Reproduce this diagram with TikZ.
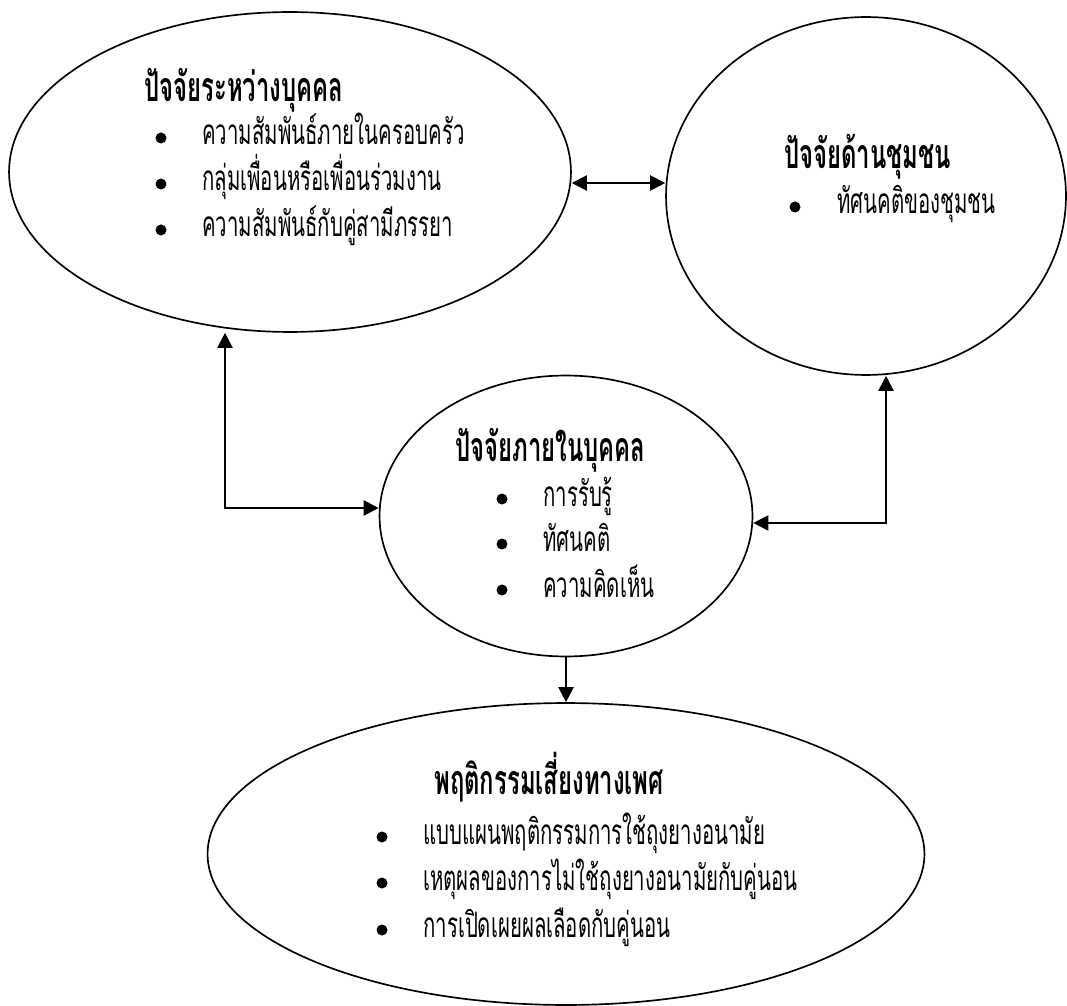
\documentclass[tikz,border=0pt]{standalone}
\usepackage{fontspec}
\newfontfamily\thaifont[Script=Thai, FakeStretch=0.58]{Loma}
\usepackage{tikz}
\usetikzlibrary{arrows.meta,shapes.geometric}

\begin{document}
\begin{tikzpicture}[x=0.02cm, y=-0.02cm, >={Triangle[length=3mm,width=3mm]},
	oval/.style={draw, ellipse, line width=0.95pt, inner sep=0pt},
	link/.style={line width=1.15pt},
	head/.style={anchor=base west, inner sep=0pt, font=\thaifont\bfseries\fontsize{23.4}{26}\selectfont},
	item/.style={anchor=base west, inner sep=0pt, font=\thaifont\fontsize{20}{23}\selectfont},
	dot/.style={circle, fill, inner sep=0pt, minimum size=0.22cm}]
	\useasboundingbox (0,0) rectangle (1067,1006);
	
	% Ellipses {inter, comm, intra, risk}
	\node [oval, minimum width=11.24cm, minimum height=6.4cm]  (inter) at (290,172) {};
	\node [oval, minimum width=8cm, minimum height=7.16cm]     (comm)  at (866,196) {};
	\node [oval, minimum width=7.46cm, minimum height=5.62cm]  (intra) at (566,516) {};
	\node [oval, minimum width=14.34cm, minimum height=6.04cm] (risk)  at (566,854) {};
	
	% Texts
	\node [head] (inter-t) at (144,102) {ปัจจัยระหว่างบุคคล};
	\node [dot]  (inter-d1) at (161,138) {};
	\node [dot]  (inter-d2) at (161,184) {};
	\node [dot]  (inter-d3) at (161,230) {};
	\node [item] (inter-1) at (202,145) {ความสัมพันธ์ภายในครอบครัว};
	\node [item] (inter-2) at (202,191) {กลุ่มเพื่อนหรือเพื่อนร่วมงาน};
	\node [item] (inter-3) at (202,237) {ความสัมพันธ์กับคู่สามีภรรยา};
	
	\node [head] (comm-t)  at (784,169) {ปัจจัยด้านชุมชน};
	\node [dot]  (comm-d1) at (795,207) {};
	\node [item] (comm-1)  at (837,214) {ทัศนคติของชุมชน};
	
	\node [head] (intra-t)  at (455,461) {ปัจจัยภายในบุคคล};
	\node [dot]  (intra-d1) at (502,499) {};
	\node [dot]  (intra-d2) at (502,544) {};
	\node [dot]  (intra-d3) at (502,590) {};
	\node [item] (intra-1)  at (543,506) {การรับรู้};
	\node [item] (intra-2)  at (543,551) {ทัศนคติ};
	\node [item] (intra-3)  at (543,597) {ความคิดเห็น};
	
	\node [head] (risk-t)  at (434,794) {พฤติกรรมเสี่ยงทางเพศ};
	\node [dot]  (risk-d1) at (382,837) {};
	\node [dot]  (risk-d2) at (382,883) {};
	\node [dot]  (risk-d3) at (382,930) {};
	\node [item] (risk-1)  at (423,844) {แบบแผนพฤติกรรมการใช้ถุงยางอนามัย};
	\node [item] (risk-2)  at (423,890) {เหตุผลของการไม่ใช้ถุงยางอนามัยกับคู่นอน};
	\node [item] (risk-3)  at (423,937) {การเปิดเผยผลเลือดกับคู่นอน};
	
	% Paths
	\coordinate (mid)   at (619,183);
	\coordinate (lbend) at (225,508);
	\coordinate (rbend) at (886,523);
	\draw [link, <->] (inter.east |- mid) -- (comm.west |- mid);
	\draw [link, <->] (inter.south -| lbend) -- (lbend) -- (intra.west |- lbend);
	\draw [link, <->] (comm.south -| rbend) -- (rbend) -- (intra.east |- rbend);
	\draw [link, ->]  (intra.south) -- (risk.north);
	
\end{tikzpicture}
\end{document}
